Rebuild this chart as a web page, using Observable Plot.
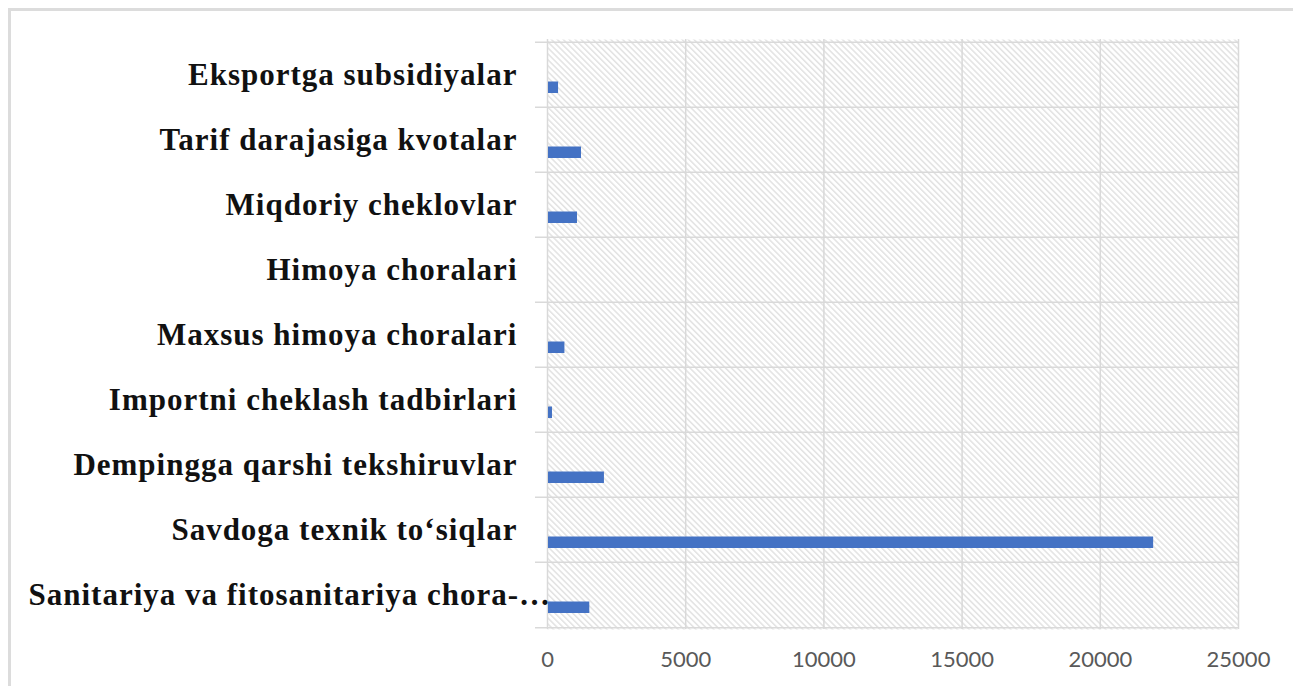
<!DOCTYPE html>
<html>
<head>
<meta charset="utf-8">
<script src="https://cdn.jsdelivr.net/npm/d3@7"></script>
<script src="https://cdn.jsdelivr.net/npm/@observablehq/plot@0.6"></script>
<style>
  html, body { margin: 0; padding: 0; background: #fff; overflow: hidden; }
  #wrap { position: relative; width: 1293px; height: 686px; }
  #border { position: absolute; left: 8px; top: 8px; width: 1300px; height: 700px; border: 3px solid #dcdcdc; box-sizing: border-box; }
  #chart { position: absolute; left: 0; top: 0; }
  #chart g.catlabel text { letter-spacing: 1px; }
</style>
</head>
<body>
<div id="wrap"><div id="border"></div><div id="chart"></div></div>
<script>
const categories = [
  "Eksportga subsidiyalar",
  "Tarif darajasiga kvotalar",
  "Miqdoriy cheklovlar",
  "Himoya choralari",
  "Maxsus himoya choralari",
  "Importni cheklash tadbirlari",
  "Dempingga qarshi tekshiruvlar",
  "Savdoga texnik to‘siqlar",
  "Sanitariya va fitosanitariya chora-…"
];
const values = [400, 1230, 1085, 0, 630, 180, 2060, 21930, 1530];
const xTicks = [0, 5000, 10000, 15000, 20000, 25000];

const data = categories.map((c, i) => ({category: c, value: values[i]}));
const truncated = categories[categories.length - 1];
const normalLabels = categories.filter(c => c !== truncated);

const W = 1293, H = 686, mL = 547, mR = 55, mT = 39, mB = 57;
const bw = (H - mT - mB) / categories.length;

const plot = Plot.plot({
  width: W,
  height: H,
  marginLeft: mL,
  marginRight: mR,
  marginTop: mT,
  marginBottom: mB,
  style: {background: "transparent", overflow: "visible"},
  x: {domain: [0, 25000], ticks: xTicks, label: null},
  y: {domain: categories, padding: 0, axis: null, label: null},
  marks: [
    Plot.frame({fill: "url(#hatch)", stroke: "none"}),
    Plot.ruleX(xTicks, {x: d => d, stroke: "#d9d9d9", strokeWidth: 1.5}),
    Plot.ruleY(categories, {y: d => d, dy: -bw / 2, stroke: "#d9d9d9", strokeWidth: 1.5, insetLeft: -12}),
    Plot.ruleY([categories[categories.length - 1]], {y: d => d, dy: bw / 2, stroke: "#d9d9d9", strokeWidth: 1.5, insetLeft: -12}),
    Plot.barX(data, {x: "value", y: "category", fill: "#4472c4", insetTop: 39.5, insetBottom: 14, insetLeft: 1}),
    Plot.axisX({ticks: xTicks, tickSize: 0, tickPadding: 22, tickFormat: d => String(d), fontSize: 22, fontFamily: "Lato", fill: "#595959", label: null}),
    Plot.text(normalLabels, {y: d => d, frameAnchor: "left", textAnchor: "end", dx: -30, fontSize: 31, fontWeight: "bold", fontFamily: "Liberation Serif", fill: "#111", className: "catlabel"}),
    Plot.text([truncated], {y: d => d, frameAnchor: "left", textAnchor: "start", dx: -519, fontSize: 31, fontWeight: "bold", fontFamily: "Liberation Serif", fill: "#111", className: "catlabel"})
  ]
});

const defs = document.createElementNS("http://www.w3.org/2000/svg", "defs");
defs.innerHTML = `<pattern id="hatch" patternUnits="userSpaceOnUse" width="4.2" height="4.2" patternTransform="rotate(-45)">
  <rect width="4.2" height="4.2" fill="#ffffff"></rect>
  <line x1="0.8" y1="0" x2="0.8" y2="4.2" stroke="#d8d8d8" stroke-width="1.1"></line>
</pattern>`;
plot.insertBefore(defs, plot.firstChild);
document.getElementById("chart").appendChild(plot);
</script>
</body>
</html>
